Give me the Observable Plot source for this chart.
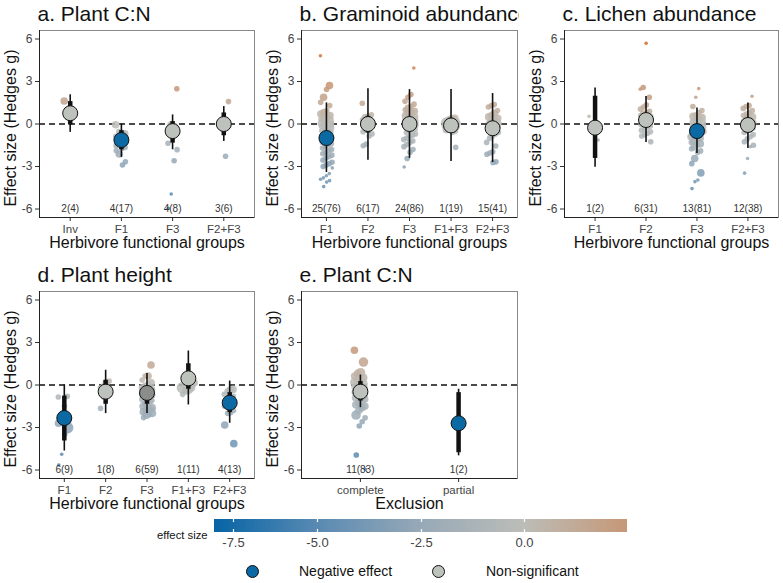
<!DOCTYPE html>
<html>
<head>
<meta charset="utf-8">
<script src="https://cdn.jsdelivr.net/npm/d3@7"></script>
<script src="https://cdn.jsdelivr.net/npm/@observablehq/plot@0.6"></script>
<style>
  html, body { margin: 0; padding: 0; background: white; }
  #root { position: relative; width: 783px; height: 583px; background: white; font-family: "Liberation Sans", Arial, sans-serif; overflow: hidden; }
  #root > svg { position: absolute; overflow: hidden; }
  #cbar line { stroke: white !important; stroke-dasharray: 3 7 3 10; stroke-width: 1.2; }
  .lab { position: absolute; color: #111; white-space: nowrap; }
  .sw { position: absolute; width: 11px; height: 11px; border-radius: 50%; border: 1px solid #111; }
</style>
</head>
<body>
<div id="root"></div>
<script>
// ---------- shared ----------
const yTicks = [-6, -3, 0, 3, 6];
const nLabelY = -6;
const colorDomain = [-8.06, -5, -2.5, 0, 2.54];
const colorRange = ["#0765a6", "#5a8ab2", "#97a9b7", "#bcbdb8", "#c69878"];
const legendTicks = [-7.5, -5.0, -2.5, 0.0];

// ---------- a. Plant C:N ----------
const groupsA = ["Inv", "F1", "F3", "F2+F3"];
const nA = ["2(4)", "4(17)", "4(8)", "3(6)"];
const meanA = [0.76, -1.13, -0.5, 0.0];
const ciLoA = [-0.59, -2.36, -1.82, -1.23];
const ciHiA = [2.06, 0.0, 0.64, 1.23];
const thLoA = [-0.07, -1.82, -1.35, -0.83];
const thHiA = [1.58, -0.47, 0.17, 0.78];
const sigA = ["ns", "neg", "ns", "ns"];
const ptsA = [
  ["Inv",1.62,3],["Inv",0.68,3],["Inv",0.85,2],["Inv",0.55,2],
  ["F1",-0.05,3],["F1",-0.7,3],["F1",-0.63,2],["F1",-0.54,2],["F1",-0.87,2],["F1",-1.06,3],["F1",-1.18,2],["F1",-1.34,2],["F1",-1.53,2],["F1",-1.65,2],["F1",-1.72,2],["F1",-2.12,3],["F1",-1.88,2],["F1",-2.66,2],["F1",-2.89,2],["F1",-0.82,2],["F1",-1.41,1],
  ["F3",2.49,2],["F3",-0.24,4],["F3",-0.07,3],["F3",-1.36,2],["F3",-1.81,2],["F3",-2.59,2],["F3",-4.94,1],["F3",-5.95,1],
  ["F2+F3",1.58,2],["F2+F3",-2.28,2],["F2+F3",-0.28,2],["F2+F3",0.12,2],["F2+F3",-0.12,2],["F2+F3",-0.05,1]
];

// ---------- b. Graminoid abundance ----------
const groupsB = ["F1", "F2", "F3", "F1+F3", "F2+F3"];
const nB = ["25(76)", "6(17)", "24(86)", "1(19)", "15(41)"];
const meanB = [-0.99, 0.0, 0.0, -0.1, -0.3];
const ciLoB = [-3.43, -2.55, -2.43, -2.65, -2.72];
const ciHiB = [1.49, 2.48, 2.43, 2.43, 2.15];
const thLoB = [-1.4, -0.64, -0.45, -0.6, -0.75];
const thHiB = [-0.6, 0.54, 0.45, 0.4, 0.15];
const sigB = ["neg", "ns", "ns", "ns", "ns"];
const ptsB = [
  ["F1",4.82,1],["F1",2.72,3],["F1",2.43,2],["F1",1.89,3],["F1",1.54,2],["F1",1.3,2],["F1",0.95,2],["F1",0.8,3],["F1",0.7,3],["F1",0.6,3],["F1",0.5,3],["F1",0.42,3],["F1",0.35,2],["F1",0.25,3],["F1",0.18,2],["F1",0.1,3],["F1",0.05,3],["F1",0,3],["F1",-0.05,2],["F1",-0.1,3],["F1",-0.18,2],["F1",-0.25,3],["F1",-0.32,2],["F1",-0.4,2],["F1",-0.48,2],["F1",-0.55,2],["F1",-0.65,2],["F1",-0.75,2],["F1",-0.85,2],["F1",-0.95,2],["F1",-1.1,2],["F1",-1.2,2],["F1",-1.3,2],["F1",-1.4,2],["F1",-1.5,2],["F1",-1.6,2],["F1",-1.7,2],["F1",-1.8,2],["F1",-1.9,2],["F1",-2.0,2],["F1",-2.1,2],["F1",-2.2,2],["F1",-2.3,2],["F1",-2.4,2],["F1",-2.55,2],["F1",-2.7,2],["F1",-2.8,2],["F1",-2.9,2],["F1",-3.0,2],["F1",-3.1,1],["F1",-3.5,1],["F1",-3.65,1],["F1",-3.8,1],["F1",-3.9,1],["F1",-4.0,1],["F1",-4.1,1],["F1",-4.42,1],
  ["F2",1.47,2],["F2",0.65,2],["F2",0.55,2],["F2",0.45,3],["F2",0.3,2],["F2",0.2,2],["F2",0.1,2],["F2",0.05,2],["F2",-0.05,2],["F2",-0.15,2],["F2",-0.25,2],["F2",-0.4,2],["F2",-0.55,2],["F2",-0.7,2],["F2",-0.85,2],["F2",-1.42,2],["F2",-1.54,2],
  ["F3",3.95,1],["F3",2.08,2],["F3",1.89,2],["F3",1.6,2],["F3",1.4,2],["F3",1.25,2],["F3",1.1,3],["F3",1.0,2],["F3",0.9,3],["F3",0.8,3],["F3",0.7,3],["F3",0.6,3],["F3",0.5,3],["F3",0.42,3],["F3",0.35,2],["F3",0.28,3],["F3",0.2,3],["F3",0.12,3],["F3",0.05,3],["F3",0,3],["F3",-0.05,3],["F3",-0.12,2],["F3",-0.2,3],["F3",-0.28,2],["F3",-0.35,2],["F3",-0.42,2],["F3",-0.5,2],["F3",-0.6,2],["F3",-0.7,2],["F3",-0.8,2],["F3",-0.9,2],["F3",-1.0,2],["F3",-1.1,2],["F3",-1.2,2],["F3",-1.3,2],["F3",-1.45,2],["F3",-1.6,2],["F3",-1.8,2],["F3",-2.0,2],["F3",-2.43,2],["F3",-3.03,1],
  ["F1+F3",0.4,3],["F1+F3",0.3,4],["F1+F3",0.2,4],["F1+F3",0.12,4],["F1+F3",0.05,5],["F1+F3",0,5],["F1+F3",-0.05,4],["F1+F3",-0.1,4],["F1+F3",-0.15,4],["F1+F3",-0.22,3],["F1+F3",-0.3,3],["F1+F3",-0.4,3],["F1+F3",-0.5,2],["F1+F3",-0.6,2],["F1+F3",0.08,3],["F1+F3",-0.02,3],["F1+F3",-1.65,2],
  ["F2+F3",1.37,2],["F2+F3",1.3,2],["F2+F3",1.2,2],["F2+F3",0.95,2],["F2+F3",0.75,3],["F2+F3",0.6,3],["F2+F3",0.5,3],["F2+F3",0.4,3],["F2+F3",0.3,3],["F2+F3",0.2,3],["F2+F3",0.12,2],["F2+F3",0.05,3],["F2+F3",0,2],["F2+F3",-0.05,2],["F2+F3",-0.12,2],["F2+F3",-0.2,2],["F2+F3",-0.3,2],["F2+F3",-0.4,2],["F2+F3",-0.5,2],["F2+F3",-0.6,2],["F2+F3",-0.7,2],["F2+F3",-0.85,2],["F2+F3",-1.0,2],["F2+F3",-1.3,2],["F2+F3",-1.55,2],["F2+F3",-1.96,2],["F2+F3",-2.05,2],["F2+F3",-2.13,2],["F2+F3",-2.67,2],["F2+F3",-2.72,2]
];

// ---------- c. Lichen abundance ----------
const groupsC = ["F1", "F2", "F3", "F2+F3"];
const nC = ["1(2)", "6(31)", "13(81)", "12(38)"];
const meanC = [-0.26, 0.28, -0.5, -0.07];
const ciLoC = [-3.05, -1.3, -2.08, -1.73];
const ciHiC = [2.55, 1.94, 1.13, 1.49];
const thLoC = [-2.43, -0.2, -0.95, -0.5];
const thHiC = [1.96, 0.75, -0.05, 0.35];
const sigC = ["ns", "ns", "neg", "ns"];
const ptsC = [
  ["F1",0.54,1],["F1",-1.13,1],
  ["F2",5.7,1],["F2",2.58,2],["F2",2.46,1],["F2",1.89,2],["F2",1.35,2],["F2",1.2,2],["F2",1.05,2],["F2",0.9,2],["F2",0.8,2],["F2",0.7,3],["F2",0.6,2],["F2",0.5,3],["F2",0.42,2],["F2",0.35,2],["F2",0.25,2],["F2",0.15,2],["F2",0.08,2],["F2",0,2],["F2",-0.05,2],["F2",-0.15,2],["F2",-0.25,2],["F2",-0.35,2],["F2",-0.45,2],["F2",-0.55,2],["F2",-0.65,2],["F2",-0.75,2],["F2",-0.85,2],["F2",-1.25,2],
  ["F3",2.5,1],["F3",1.89,1],["F3",1.23,2],["F3",0.95,2],["F3",0.8,2],["F3",0.65,2],["F3",0.55,3],["F3",0.45,3],["F3",0.35,3],["F3",0.25,3],["F3",0.15,3],["F3",0.08,3],["F3",0,3],["F3",-0.08,3],["F3",-0.15,3],["F3",-0.22,3],["F3",-0.3,3],["F3",-0.38,3],["F3",-0.45,3],["F3",-0.52,3],["F3",-0.6,3],["F3",-0.7,3],["F3",-0.8,3],["F3",-0.9,3],["F3",-1.0,3],["F3",-1.1,3],["F3",-1.2,3],["F3",-1.3,2],["F3",-1.4,3],["F3",-1.5,2],["F3",-1.6,3],["F3",-1.75,2],["F3",-1.9,2],["F3",-2.0,2],["F3",-2.43,3],["F3",-2.8,2],["F3",-3.45,3],["F3",-3.95,1],["F3",-4.07,1],["F3",-4.56,1],
  ["F2+F3",1.96,1],["F2+F3",1.3,2],["F2+F3",1.23,2],["F2+F3",1.1,2],["F2+F3",0.95,2],["F2+F3",0.8,2],["F2+F3",0.7,2],["F2+F3",0.6,2],["F2+F3",0.5,3],["F2+F3",0.4,2],["F2+F3",0.3,3],["F2+F3",0.2,2],["F2+F3",0.1,3],["F2+F3",0,2],["F2+F3",-0.1,2],["F2+F3",-0.2,2],["F2+F3",-0.3,2],["F2+F3",-0.4,2],["F2+F3",-0.5,2],["F2+F3",-0.6,2],["F2+F3",-0.75,2],["F2+F3",-0.9,2],["F2+F3",-1.05,2],["F2+F3",-1.25,2],["F2+F3",-1.5,2],["F2+F3",-1.6,1],["F2+F3",-2.43,1],["F2+F3",-3.47,1]
];

// ---------- d. Plant height ----------
const groupsD = ["F1", "F2", "F3", "F1+F3", "F2+F3"];
const nD = ["6(9)", "1(8)", "6(59)", "1(11)", "4(13)"];
const meanD = [-2.33, -0.47, -0.56, 0.47, -1.25];
const ciLoD = [-4.66, -2.02, -2.02, -1.41, -2.7];
const ciHiD = [0.0, 1.04, 0.82, 2.4, 0.28];
const thLoD = [-3.95, -1.36, -1.36, -0.3, -1.95];
const thHiD = [-0.78, 0.33, -0.19, 1.5, -0.54];
const sigD = ["neg", "ns", "nsd", "ns", "neg"];
const ptsD = [
  ["F1",-0.85,2],["F1",-0.8,2],["F1",-1.5,2],["F1",-2.2,2],["F1",-2.7,3],["F1",-3.01,5],["F1",-3.5,2],["F1",-4.89,1],["F1",-5.65,1],
  ["F2",0.28,2],["F2",0.16,3],["F2",-0.07,2],["F2",-0.19,2],["F2",-0.3,2],["F2",-0.42,2],["F2",-0.85,2],["F2",-1.65,2],
  ["F3",1.41,3],["F3",0.64,3],["F3",0.64,2],["F3",0.35,2],["F3",0.15,3],["F3",0,3],["F3",-0.1,3],["F3",-0.2,3],["F3",-0.3,3],["F3",-0.4,3],["F3",-0.5,3],["F3",-0.6,3],["F3",-0.7,3],["F3",-0.8,3],["F3",-0.9,3],["F3",-1.0,3],["F3",-1.1,2],["F3",-1.2,3],["F3",-1.35,3],["F3",-1.5,3],["F3",-1.6,3],["F3",-1.7,3],["F3",-1.8,3],["F3",-1.9,3],["F3",-2.0,3],["F3",-2.1,2],["F3",-2.14,3],["F3",-2.3,2],["F3",-1.75,2],["F3",-0.95,2],
  ["F1+F3",0.4,2],["F1+F3",0.28,2],["F1+F3",0.16,3],["F1+F3",0.05,4],["F1+F3",-0.07,3],["F1+F3",-0.07,3],["F1+F3",-0.19,5],["F1+F3",-0.2,3],["F1+F3",-0.31,4],["F1+F3",-0.42,3],["F1+F3",-0.66,2],
  ["F2+F3",-0.31,3],["F2+F3",-0.35,3],["F2+F3",-0.42,2],["F2+F3",-0.66,2],["F2+F3",-0.8,2],["F2+F3",-1.0,2],["F2+F3",-1.3,2],["F2+F3",-1.5,2],["F2+F3",-1.8,2],["F2+F3",-1.95,2],["F2+F3",-2.0,2],["F2+F3",-2.82,3],["F2+F3",-4.14,3]
];

// ---------- e. Plant C:N (exclusion) ----------
const groupsE = ["complete", "partial"];
const nE = ["11(83)", "1(2)"];
const meanE = [-0.47, -2.7];
const ciLoE = [-1.6, -5.0];
const ciHiE = [0.7, -0.3];
const thLoE = [-1.13, -4.78];
const thHiE = [0.24, -0.54];
const sigE = ["ns", "neg"];
const ptsE = [
  ["complete",2.45,3],["complete",1.62,4],["complete",0.87,4],["complete",0.8,3],["complete",0.64,3],["complete",0.52,3],["complete",0.4,3],["complete",0.3,3],["complete",0.2,4],["complete",0.1,3],["complete",0.02,3],["complete",-0.05,3],["complete",-0.12,3],["complete",-0.2,3],["complete",-0.3,3],["complete",-0.4,3],["complete",-0.5,3],["complete",-0.6,3],["complete",-0.7,3],["complete",-0.8,3],["complete",-0.9,3],["complete",-1.0,3],["complete",-1.1,3],["complete",-1.25,3],["complete",-1.4,3],["complete",-1.5,3],["complete",-1.6,3],["complete",-1.79,3],["complete",-2.12,4],["complete",-2.31,2],["complete",-2.59,2],["complete",-2.89,2],["complete",-4.94,2],["complete",-5.95,1],
  ["partial",-2.71,1],["partial",-2.6,1]
];

// ---------- drawing ----------
const FONT = "Liberation Sans, Arial, sans-serif";
const YLABEL = "Effect size (Hedges g)";
const colorOpts = {type: "linear", domain: colorDomain, range: colorRange, interpolate: "rgb"};
const meanFill = {neg: "#0b69a4", ns: "#bec2bd", nsd: "#8b8d8a"};
const JITTER_PX = 6;

function panel(cfg) {
  const {groups, n, mean, ciLo, ciHi, thLo, thHi, sig, pts, title, xlabel, width, marginRight} = cfg;
  const marginLeft = 39;
  const step = (width - marginLeft - marginRight) / (groups.length + 0.2);
  const amp = JITTER_PX / step;
  const idx = new Map(groups.map((g, i) => [g, i]));
  const stats = groups.map((g, i) => ({i, g, n: n[i], mean: mean[i], ciLo: ciLo[i], ciHi: ciHi[i], thLo: thLo[i], thHi: thHi[i], sig: sig[i]}));
  const points = pts.map(([g, v, w], k) => ({i: idx.get(g), v, w, k}));
  const jitter = d => (((d.k * 0.7548776662) % 1) - 0.5) * 2 * amp;
  const meanMarks = Object.keys(meanFill).map(s =>
    Plot.dot(stats.filter(d => d.sig === s), {x: "i", y: "mean", r: 7.5, fill: meanFill[s], stroke: "#111", strokeWidth: 1}));
  return Plot.plot({
    width, height: 253,
    marginTop: 30, marginBottom: 36, marginLeft, marginRight,
    style: {fontFamily: FONT, fontSize: "11.5px", color: "#444", background: "transparent"},
    x: {domain: [-0.6, groups.length - 0.4]},
    y: {domain: [-6.6, 6.6]},
    color: colorOpts,
    r: {type: "linear", domain: [1, 5], range: [1.8, 5.8]},
    marks: [
      Plot.frame({stroke: "#888"}),
      Plot.ruleY([0], {stroke: "#111", strokeWidth: 1.3, strokeDasharray: "6,4"}),
      Plot.dot(points, {x: d => d.i + jitter(d), y: "v", r: "w", fill: "v", fillOpacity: 0.85}),
      Plot.ruleX(stats, {x: "i", y1: "ciLo", y2: "ciHi", stroke: "#111", strokeWidth: 1.6}),
      Plot.ruleX(stats, {x: "i", y1: "thLo", y2: "thHi", stroke: "#111", strokeWidth: 4.5}),
      ...meanMarks,
      Plot.text(stats, {x: "i", y: () => nLabelY, text: "n", fontSize: 10, fill: "#333"}),
      Plot.axisX({ticks: groups.map((g, i) => i), tickFormat: i => groups[i], tickSize: 4, tickPadding: 3, label: null, fontSize: 11.5, stroke: "#333"}),
      Plot.axisY({ticks: yTicks, tickFormat: d => String(d), tickSize: 4, tickPadding: 3, label: null, fontSize: 12, stroke: "#333"}),
      Plot.ruleX([-0.6], {stroke: "#222", strokeWidth: 1}),
      Plot.ruleY([-6.6], {stroke: "#222", strokeWidth: 1}),
      Plot.text([title], {text: d => d, frameAnchor: "top-left", dx: -2, dy: -10, textAnchor: "start", lineAnchor: "bottom", fontSize: 21, fill: "#111"}),
      Plot.text([xlabel], {text: d => d, frameAnchor: "bottom", dy: 30, textAnchor: "middle", lineAnchor: "bottom", fontSize: 16, fill: "#111"}),
      Plot.text([YLABEL], {text: d => d, frameAnchor: "left", dx: -24, dy: 4, rotate: -90, textAnchor: "middle", lineAnchor: "bottom", fontSize: 16, fill: "#111"})
    ]
  });
}

const root = document.getElementById("root");
function place(el, left, top) {
  el.style.position = "absolute";
  el.style.left = left + "px";
  el.style.top = top + "px";
  el.style.overflow = "hidden";
  el.style.maxWidth = "none";
  root.appendChild(el);
}

const HFG = "Herbivore functional groups";
place(panel({groups: groupsA, n: nA, mean: meanA, ciLo: ciLoA, ciHi: ciHiA, thLo: thLoA, thHi: thHiA, sig: sigA, pts: ptsA, title: "a. Plant C:N", xlabel: HFG, width: 262, marginRight: 8}), 0, 0);
place(panel({groups: groupsB, n: nB, mean: meanB, ciLo: ciLoB, ciHi: ciHiB, thLo: thLoB, thHi: thHiB, sig: sigB, pts: ptsB, title: "b. Graminoid abundance", xlabel: HFG, width: 257, marginRight: 2}), 262, 0);
place(panel({groups: groupsC, n: nC, mean: meanC, ciLo: ciLoC, ciHi: ciHiC, thLo: thLoC, thHi: thHiC, sig: sigC, pts: ptsC, title: "c. Lichen abundance", xlabel: HFG, width: 257, marginRight: 4}), 525, 0);
place(panel({groups: groupsD, n: nD, mean: meanD, ciLo: ciLoD, ciHi: ciHiD, thLo: thLoD, thHi: thHiD, sig: sigD, pts: ptsD, title: "d. Plant height", xlabel: HFG, width: 262, marginRight: 8}), 0, 261);
place(panel({groups: groupsE, n: nE, mean: meanE, ciLo: ciLoE, ciHi: ciHiE, thLo: thLoE, thHi: thHiE, sig: sigE, pts: ptsE, title: "e. Plant C:N", xlabel: "Exclusion", width: 257, marginRight: 2}), 262, 261);

// colour bar legend
const cbar = Plot.legend({
  color: colorOpts,
  label: null,
  width: 413, height: 34,
  marginTop: 0, marginBottom: 21, marginLeft: 0, marginRight: 0,
  tickSize: 3,
  ticks: legendTicks,
  tickFormat: d => d.toFixed(1),
  style: {fontFamily: FONT, fontSize: "13px", color: "#444", background: "transparent"}
});
const cwrap = document.createElement("div");
cwrap.id = "cbar";
cwrap.appendChild(cbar);
place(cwrap, 214, 519);
cwrap.style.overflow = "visible";

const esl = document.createElement("div");
esl.className = "lab";
esl.textContent = "effect size";
esl.style.cssText += "left:157px;top:529px;font-size:11.3px;";
root.appendChild(esl);

// significance legend
const sigLegend = [
  {label: "Negative effect", fill: meanFill.neg, sx: 246, tx: 299},
  {label: "Non-significant", fill: meanFill.ns, sx: 432, tx: 486}
];
for (const s of sigLegend) {
  const c = document.createElement("div");
  c.className = "sw";
  c.style.left = s.sx + "px";
  c.style.top = "565px";
  c.style.background = s.fill;
  root.appendChild(c);
  const t = document.createElement("div");
  t.className = "lab";
  t.textContent = s.label;
  t.style.cssText += `left:${s.tx}px;top:563px;font-size:14px;`;
  root.appendChild(t);
}
</script>
</body>
</html>
